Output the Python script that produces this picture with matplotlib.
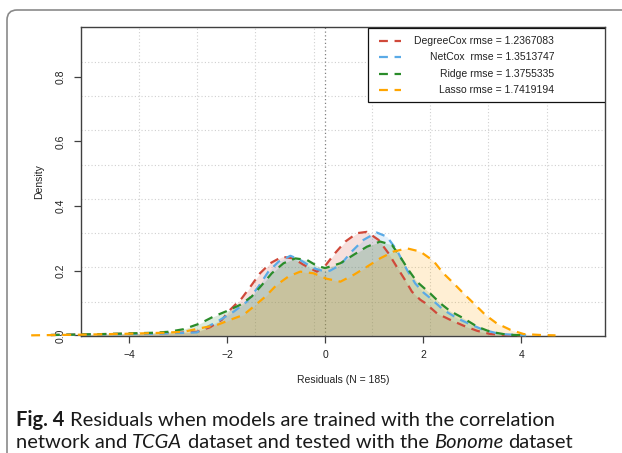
import matplotlib
matplotlib.use("Agg")
from matplotlib import pyplot as plt
from matplotlib.patches import FancyBboxPatch, Rectangle
from matplotlib.transforms import IdentityTransform

# values
red_x = [-5.6, -4.5, -3.5, -3.0, -2.62, -2.35, -2.11, -1.94, -1.70, -1.50, -1.33, -1.12, -0.88, -0.65,
         -0.44, -0.17, 0.0, 0.2, 0.41, 0.65, 0.85, 1.09, 1.29, 1.46, 1.63, 1.77, 1.94, 2.04, 2.28, 2.55,
         2.82, 3.10, 3.37, 3.7, 4.0]
red_y = [0.001, 0.004, 0.006, 0.008, 0.011, 0.025, 0.048, 0.079, 0.115, 0.156, 0.192, 0.223, 0.243, 0.238,
         0.218, 0.197, 0.215, 0.254, 0.290, 0.316, 0.320, 0.295, 0.254, 0.212, 0.171, 0.135, 0.110, 0.100,
         0.068, 0.048, 0.030, 0.014, 0.004, 0.001, 0.0]

blue_x = [-5.6, -4.5, -3.5, -3.0, -2.62, -2.21, -1.87, -1.60, -1.36, -1.16, -0.95, -0.71, -0.51, -0.24,
          0.0, 0.10, 0.31, 0.54, 0.78, 1.05, 1.26, 1.46, 1.67, 1.84, 2.0, 2.16, 2.41, 2.69, 2.96, 3.23,
          3.57, 4.1]
blue_y = [0.001, 0.003, 0.005, 0.007, 0.009, 0.042, 0.073, 0.104, 0.151, 0.197, 0.228, 0.246, 0.233, 0.208,
          0.197, 0.200, 0.218, 0.259, 0.295, 0.318, 0.305, 0.264, 0.202, 0.160, 0.133, 0.113, 0.079, 0.053,
          0.034, 0.017, 0.004, 0.0]

green_x = [-5.6, -4.5, -3.5, -3.2, -2.89, -2.55, -2.28, -2.01, -1.74, -1.50, -1.29, -1.09, -0.85, -0.61,
           -0.37, -0.17, 0.0, 0.31, 0.58, 0.85, 1.12, 1.36, 1.53, 1.70, 1.87, 2.14, 2.35, 2.55, 2.82, 3.10,
           3.37, 3.71, 4.1]
green_y = [0.001, 0.004, 0.008, 0.011, 0.019, 0.037, 0.058, 0.075, 0.094, 0.120, 0.156, 0.192, 0.223, 0.238,
           0.233, 0.215, 0.208, 0.223, 0.249, 0.274, 0.290, 0.280, 0.243, 0.202, 0.166, 0.130, 0.099, 0.075,
           0.053, 0.027, 0.011, 0.002, 0.0]

orange_x = [-6.0, -5.0, -4.0, -3.3, -2.89, -2.55, -2.21, -1.94, -1.67, -1.46, -1.22, -0.99, -0.75, -0.51,
            -0.24, 0.03, 0.31, 0.58, 0.85, 1.12, 1.39, 1.67, 1.94, 2.21, 2.41, 2.62, 2.82, 3.03, 3.27, 3.50,
            3.78, 4.05, 4.4, 4.7]
orange_y = [0.0, 0.002, 0.005, 0.008, 0.011, 0.022, 0.032, 0.048, 0.063, 0.089, 0.120, 0.156, 0.182, 0.197,
            0.192, 0.175, 0.166, 0.187, 0.212, 0.238, 0.259, 0.269, 0.259, 0.230, 0.192, 0.161, 0.130, 0.099,
            0.063, 0.037, 0.017, 0.004, 0.001, 0.0]

labels = ["DegreeCox rmse = 1.2367083", "NetCox  rmse = 1.3513747",
          "Ridge rmse = 1.3755335", "Lasso rmse = 1.7419194"]
colors = ["#d0493a", "#5aaae6", "#2a8c2a", "#ffa500"]
xticks = [-4, -2, 0, 2, 4]
yticks = [0.0, 0.2, 0.4, 0.6, 0.8]

series = [(red_x, red_y), (blue_x, blue_y), (green_x, green_y), (orange_x, orange_y)]

XLIM = (-4.99, 5.71)
YLIM = (-0.002, 0.952)

plt.rcParams["font.family"] = ["Liberation Sans", "DejaVu Sans"]
fig = plt.figure(figsize=(6.22, 4.53), dpi=100)
fig.patch.set_facecolor("white")

# rounded frame of the paper figure
frame = FancyBboxPatch((7, -30), 660, 453 - 10 + 30, boxstyle="round,pad=0,rounding_size=10",
                       transform=IdentityTransform(), facecolor="none", edgecolor="#8a8a8a", lw=1.2)
fig.patches.append(frame)

ax = fig.add_axes([0.1297, 0.2583, 0.8430, 0.6810])
ax.set_xlim(*XLIM)
ax.set_ylim(*YLIM)

# R-style grid: 9 equal cells
for i in range(1, 9):
    ax.axvline(XLIM[0] + i * (XLIM[1] - XLIM[0]) / 9, color="#d0d0d0", lw=0.8, ls=(0, (1, 2)), zorder=0)
    ax.axhline(YLIM[0] + i * (YLIM[1] - YLIM[0]) / 9, color="#d0d0d0", lw=0.8, ls=(0, (1, 2)), zorder=0)
ax.axvline(0, color="#808080", lw=0.9, ls=(0, (1, 2)), zorder=1)

for (x, y), c in zip(series, colors):
    ax.fill_between(x, 0, y, color=c, alpha=0.17, lw=0, zorder=2)
for (x, y), c in zip(series, colors):
    ax.plot(x, y, color=c, lw=1.6, dashes=(4, 3), clip_on=False, zorder=3)

for s in ax.spines.values():
    s.set_color("#404040")
    s.set_linewidth(1.0)
ax.set_xticks(xticks)
ax.set_xticklabels([("\u2212%d" % -v) if v < 0 else "%d" % v for v in xticks])
ax.set_yticks(yticks)
ax.set_yticklabels(["%.1f" % v for v in yticks], rotation=90, va="center")
ax.tick_params(axis="x", length=5, width=0.9, color="#404040", labelsize=7.5, pad=5, labelcolor="#222222")
ax.tick_params(axis="y", length=5, width=0.9, color="#404040", labelsize=7.5, pad=6, labelcolor="#222222")
ax.set_xlabel("Residuals (N = 185)", fontsize=7.5, labelpad=11, color="#222222")
ax.set_ylabel("Density", fontsize=7.5, labelpad=8, color="#222222")

# legend box drawn by hand (text is right aligned in the reference)
ax.add_patch(Rectangle((0.548, 0.7585), 0.452, 0.24, transform=ax.transAxes, facecolor="white",
                       edgecolor="#111111", lw=0.9, zorder=5))
for k, (lab, c) in enumerate(zip(labels, colors)):
    yy = 0.957 - k * 0.0535
    ax.plot([0.568, 0.610], [yy, yy], transform=ax.transAxes, color=c, lw=1.6, dashes=(4, 3), zorder=6)
    ax.text(0.903, yy, lab, transform=ax.transAxes, ha="right", va="center", fontsize=7.5,
            color="#222222", zorder=6)

# caption with mixed styles
renderer = fig.canvas.get_renderer()
cap_font = ["Lato", "DejaVu Sans"]
cap_size = 14.5


def text_width(s, **kw):
    t = fig.text(0, 0, s, transform=IdentityTransform(), family=cap_font, fontsize=cap_size, **kw)
    w = t.get_window_extent(renderer).width
    t.remove()
    return w


space = text_width("a a") - text_width("aa")


def draw_line(x, y, runs):
    for txt, kw in runs:
        lead = len(txt) - len(txt.lstrip(" "))
        x += lead * space
        t = fig.text(x, y, txt.strip(" "), transform=IdentityTransform(), family=cap_font,
                     fontsize=cap_size, color="#1a1a1a", va="baseline", **kw)
        x += t.get_window_extent(renderer).width


draw_line(16, 453 - 426, [("Fig. 4", {"fontweight": "bold"}),
                          (" Residuals when models are trained with the correlation", {})])
draw_line(16, 453 - 448, [("network and", {}), (" TCGA", {"fontstyle": "italic"}),
                          (" dataset and tested with the", {}), (" Bonome", {"fontstyle": "italic"}),
                          (" dataset", {})])

fig.savefig("out.png", dpi=100)
